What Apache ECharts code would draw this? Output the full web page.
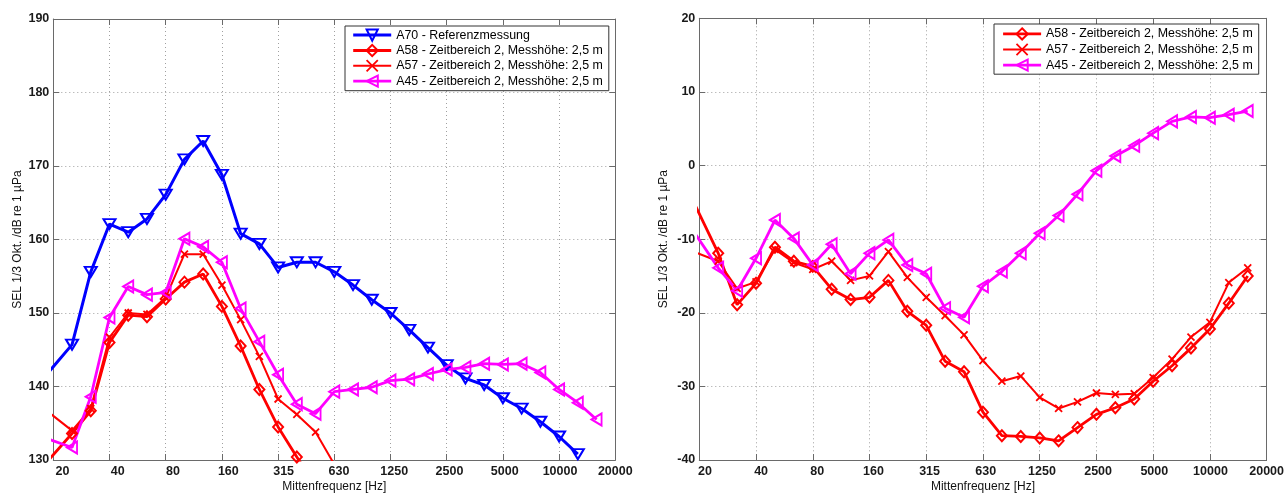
<!DOCTYPE html>
<html><head><meta charset="utf-8">
<script src="https://cdn.jsdelivr.net/npm/echarts@6/dist/echarts.min.js"></script>
<style>html,body{margin:0;padding:0;background:#fff}#c{width:1287px;height:498px}</style>
</head><body><div id="c"></div>
<script>
// 1/3-octave band centre frequencies (Hz); band 20 Hz sits at x = 0
const bands = [16,20,25,31.5,40,50,63,80,100,125,160,200,250,315,400,500,630,800,1000,1250,1600,2000,2500,3150,4000,5000,6300,8000,10000,12500,16000];
const tickLabels = ['20','40','80','160','315','630','1250','2500','5000','10000','20000'];

const nameA70 = 'A70 - Referenzmessung';
const nameA58 = 'A58 - Zeitbereich 2, Messhöhe: 2,5 m';
const nameA57 = 'A57 - Zeitbereich 2, Messhöhe: 2,5 m';
const nameA45 = 'A45 - Zeitbereich 2, Messhöhe: 2,5 m';

// Left panel: absolute SEL (dB re 1 µPa)
const leftA70 = [139.7,null,145.7,155.6,162.1,161.0,162.8,166.1,170.9,173.4,168.8,160.8,159.4,156.2,156.9,156.9,155.6,153.8,151.8,150.0,147.7,145.3,142.9,141.1,140.2,138.4,137.0,135.2,133.2,130.8,null];
const leftA58 = [127.8,null,133.6,136.7,146.0,149.7,149.5,151.9,154.2,155.3,150.9,145.5,139.6,134.5,130.4,126.5,null,null,null,null,null,null,null,null,null,null,null,null,null,null,null];
const leftA57 = [138.0,null,134.0,137.0,146.7,150.0,149.8,152.1,158.0,158.0,153.8,149.1,144.1,138.3,136.2,133.8,129.4,null,null,null,null,null,null,null,null,null,null,null,null,null,null];
const leftA45 = [133.5,null,131.7,138.6,149.4,153.6,152.5,152.8,160.1,159.0,156.9,150.6,146.1,141.6,137.6,136.3,139.3,139.6,139.9,140.8,141.0,141.7,142.3,142.6,143.1,143.0,143.1,141.9,139.6,137.8,135.5];

// Right panel: difference to reference (dB)
const rightA58 = [-1.2,null,-11.9,-18.9,-16.0,-11.1,-13.0,-13.7,-16.8,-18.2,-17.9,-15.6,-19.8,-21.7,-26.6,-28.0,-33.5,-36.7,-36.8,-37.0,-37.4,-35.6,-33.8,-32.9,-31.7,-29.3,-27.2,-24.8,-22.2,-18.7,-15.0];
const rightA57 = [-11.0,null,-13.0,-16.7,-15.8,-11.4,-13.2,-14.1,-13.0,-15.6,-15.0,-11.7,-15.2,-17.9,-20.4,-23.0,-26.5,-29.3,-28.6,-31.5,-33.0,-32.1,-30.9,-31.1,-31.0,-28.8,-26.3,-23.3,-21.3,-15.9,-13.9];
const rightA45 = [-6.3,null,-13.9,-17.0,-12.6,-7.4,-9.9,-13.5,-10.7,-14.7,-11.9,-10.1,-13.5,-14.7,-19.4,-20.6,-16.4,-14.4,-11.9,-9.2,-6.8,-3.9,-0.7,1.3,2.7,4.4,6.0,6.6,6.5,6.9,7.4];

function pairs(vals){ return vals.map((v,i)=> v==null ? null : [i-1, v]).filter(Boolean); }

const FONT = '"Liberation Sans", Arial, Helvetica, sans-serif';
const AX = '#6a6a6a';
const GRIDC = '#a0a0a0';
const labelVals = tickLabels.map((_,k)=>k*3);

const SYM = {
  triDown: 'path://M0,0L10,0L5,9Z',
  triLeft: 'path://M0,5L9,0L9,10Z',
  diamond: 'path://M5,0L10,5.5L5,11L0,5.5Z',
  cross: 'path://M0,0L10,10M0,10L10,0'
};

function mkSeries(name, vals, color, symbol, size, lw, bw, g){
  return {
    type:'line', name, data: pairs(vals), xAxisIndex: g*3, yAxisIndex: g*2,
    symbol, symbolSize: size, showSymbol:true, showAllSymbol:true, clip:true,
    lineStyle:{color, width:lw}, itemStyle:{color:'rgba(0,0,0,0)', borderColor:color, borderWidth:bw},
    emphasis:{disabled:true}, animation:false, z: 2
  };
}

function xAxes(g, labelMin){
  const base = {gridIndex:g, type:'value', min:0, max:30, interval:3};
  return [
    Object.assign({}, base, {position:'bottom',
      axisLine:{show:true, onZero:false, lineStyle:{color:AX, width:1}},
      axisTick:{show:true, inside:true, length:6, lineStyle:{color:AX}},
      axisLabel:{show:false},
      splitLine:{show:true, lineStyle:{color:GRIDC, width:1, type:[1,3]}},
      name:'Mittenfrequenz [Hz]', nameLocation:'middle', nameGap:21,
      nameTextStyle:{fontFamily:FONT, fontSize:12, color:'#111'}}),
    Object.assign({}, base, {position:'top',
      axisLine:{show:true, onZero:false, lineStyle:{color:AX, width:1}},
      axisTick:{show:true, inside:true, length:6, lineStyle:{color:AX}},
      axisLabel:{show:false}, splitLine:{show:false}}),
    {gridIndex:g, type:'value', min:labelMin, max:30, position:'bottom',
      axisLine:{show:false}, axisTick:{show:false}, splitLine:{show:false},
      axisLabel:{show:true, customValues:labelVals, margin:5,
        formatter:(v)=> tickLabels[Math.round(v/3)],
        fontFamily:FONT, fontSize:12.5, fontWeight:'bold', color:'#1a1a1a'}}
  ];
}
function yAxes(g, min, max){
  const base = {gridIndex:g, type:'value', min, max, interval:10};
  return [
    Object.assign({}, base, {position:'left',
      axisLine:{show:true, onZero:false, lineStyle:{color:AX, width:1}},
      axisTick:{show:true, inside:true, length:6, lineStyle:{color:AX}},
      axisLabel:{show:true, margin:4, fontFamily:FONT, fontSize:12.5, fontWeight:'bold', color:'#1a1a1a'},
      splitLine:{show:true, lineStyle:{color:GRIDC, width:1, type:[1,3]}},
      name:'SEL 1/3 Okt. /dB re 1 µPa', nameLocation:'middle', nameGap:30,
      nameTextStyle:{fontFamily:FONT, fontSize:12, color:'#111'}}),
    Object.assign({}, base, {position:'right',
      axisLine:{show:true, onZero:false, lineStyle:{color:AX, width:1}},
      axisTick:{show:true, inside:true, length:6, lineStyle:{color:AX}},
      axisLabel:{show:false}, splitLine:{show:false}})
  ];
}

const legendBase = {orient:'vertical', itemWidth:38, itemHeight:14, selectedMode:false,
  borderColor:'#333', borderWidth:1, backgroundColor:'#fff',
  textStyle:{fontFamily:FONT, fontSize:12.4, color:'#000'},
  lineStyle:{width:'inherit'}, itemStyle:{borderWidth:'inherit'}};

const option = {
  animation:false,
  backgroundColor:'#fff',
  grid:[
    {left:53.3, top:19, width:562, height:444, containLabel:false},
    {left:699.3, top:18.3, width:568, height:448.4, containLabel:false}
  ],
  xAxis: [...xAxes(0,-0.5), ...xAxes(1,-0.3)],
  yAxis: [...yAxes(0,130,190), ...yAxes(1,-40,20)],
  legend:[
    Object.assign({}, legendBase, {data:[nameA70,nameA58,nameA57,nameA45], left:345, top:26, itemGap:2.2, padding:[2.5,6,3,6.7]}),
    Object.assign({}, legendBase, {data:[nameA58,nameA57,nameA45], left:994, top:24, itemGap:2.5, padding:[3.3,6,2.5,7.7]})
  ],
  series:[
    mkSeries(nameA70, leftA70, '#0000ff', SYM.triDown, [12,10], 3, 2, 0),
    mkSeries(nameA58, leftA58, '#ff0000', SYM.diamond, [10,11], 2.8, 2, 0),
    mkSeries(nameA57, leftA57, '#ff0000', SYM.cross, [7,7], 2, 1.8, 0),
    mkSeries(nameA45, leftA45, '#ff00ff', SYM.triLeft, [10,12], 2.8, 2, 0),
    mkSeries(nameA58, rightA58, '#ff0000', SYM.diamond, [10,11], 2.8, 2, 1),
    mkSeries(nameA57, rightA57, '#ff0000', SYM.cross, [7,7], 2, 1.8, 1),
    mkSeries(nameA45, rightA45, '#ff00ff', SYM.triLeft, [10,12], 2.8, 2, 1)
  ]
};
const chart = echarts.init(document.getElementById('c'), null, {renderer:'canvas'});
chart.setOption(option);
</script></body></html>
